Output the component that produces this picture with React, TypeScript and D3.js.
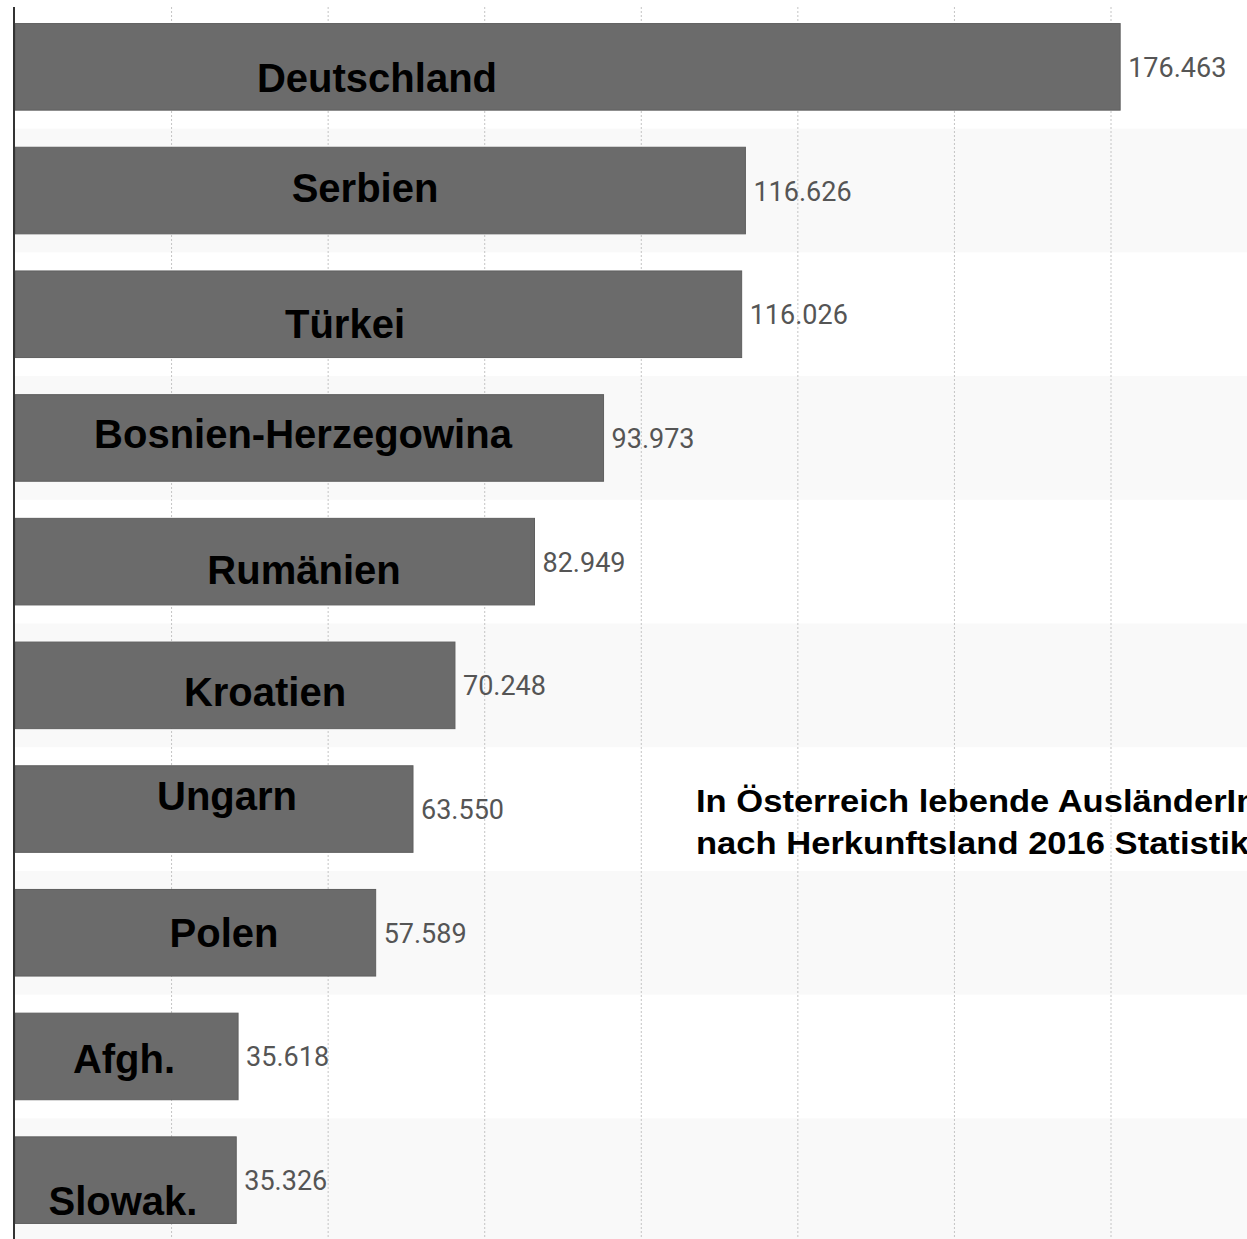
import React from "react";
import * as d3 from "d3";

const countries: string[] = [
  "Deutschland",
  "Serbien",
  "Türkei",
  "Bosnien-Herzegowina",
  "Rumänien",
  "Kroatien",
  "Ungarn",
  "Polen",
  "Afgh.",
  "Slowak.",
];
const residents: number[] = [
  176463, 116626, 116026, 93973, 82949, 70248, 63550, 57589, 35618, 35326,
];
const titleLines: string[] = [
  "In Österreich lebende AusländerInnen",
  "nach Herkunftsland 2016 Statistik Austria",
];

// hand placed country names: [center x, offset from bar middle]
const labelPlacement: [number, number][] = [
  [377, 25],
  [365, 11],
  [345, 24],
  [303, 10],
  [304, 22],
  [265, 21],
  [227, 1],
  [224, 14],
  [124, 17],
  [123, 35],
];

const chart_width = 1247;
const chart_height = 1239;
const axisX = 15;

const de = d3.formatLocale({
  decimal: ",",
  thousands: ".",
  grouping: [3],
  currency: ["", " €"],
});
const fmt = de.format(",");

const App: React.FC = () => {
  const x = d3.scaleLinear().domain([0, 175000]).range([axisX, 1111]);
  const y = d3
    .scaleBand<string>()
    .domain(countries)
    .range([5, 1242])
    .paddingInner(0.3)
    .paddingOuter(0.15);
  const step = y.step();
  const gridTicks = d3.range(25000, 175001, 25000);

  return (
    <svg
      width={chart_width}
      height={chart_height}
      style={{ position: "absolute", left: 0, top: 0, background: "#fff" }}
    >
      {/* alternating row bands */}
      {countries.map((c, i) =>
        i % 2 === 1 ? (
          <rect
            key={"band" + c}
            x={axisX}
            y={(y(c) as number) - step * 0.15}
            width={chart_width - axisX}
            height={step}
            fill="#f9f9f9"
          />
        ) : null
      )}

      {gridTicks.map((t) => (
        <line
          key={"g" + t}
          x1={x(t)}
          x2={x(t)}
          y1={7}
          y2={chart_height}
          stroke="#c4c4c4"
          strokeWidth={1}
          strokeDasharray="2,2"
        />
      ))}

      {countries.map((c, i) => (
        <rect
          key={"bar" + c}
          x={x(0)}
          y={y(c)}
          width={x(residents[i]) - x(0)}
          height={y.bandwidth()}
          fill="#6b6b6b"
          stroke="#5f5f5f"
          strokeWidth={1}
        />
      ))}

      {countries.map((c, i) => (
        <text
          key={"v" + c}
          x={x(residents[i]) + 8}
          y={(y(c) as number) + y.bandwidth() / 2 + 10}
          fontFamily="Roboto, 'Liberation Sans', sans-serif"
          fontSize={27}
          fill="#555"
        >
          {fmt(residents[i])}
        </text>
      ))}

      {countries.map((c, i) => (
        <text
          key={"n" + c}
          x={labelPlacement[i][0]}
          y={(y(c) as number) + y.bandwidth() / 2 + labelPlacement[i][1]}
          textAnchor="middle"
          fontFamily="'Liberation Sans', Arial, sans-serif"
          fontWeight="bold"
          fontSize={40}
          fill="#000"
        >
          {c}
        </text>
      ))}

      <line
        x1={axisX - 1}
        x2={axisX - 1}
        y1={7}
        y2={chart_height}
        stroke="#333"
        strokeWidth={2}
      />

      {/* title runs off the right edge, as in the source screenshot */}
      {titleLines.map((t, i) => (
        <text
          key={"t" + i}
          transform={`translate(696,${812 + i * 42}) scale(1.08,1)`}
          fontFamily="'Liberation Sans', Arial, sans-serif"
          fontWeight="bold"
          fontSize={32}
          fill="#000"
        >
          {t}
        </text>
      ))}
    </svg>
  );
};

export default App;
